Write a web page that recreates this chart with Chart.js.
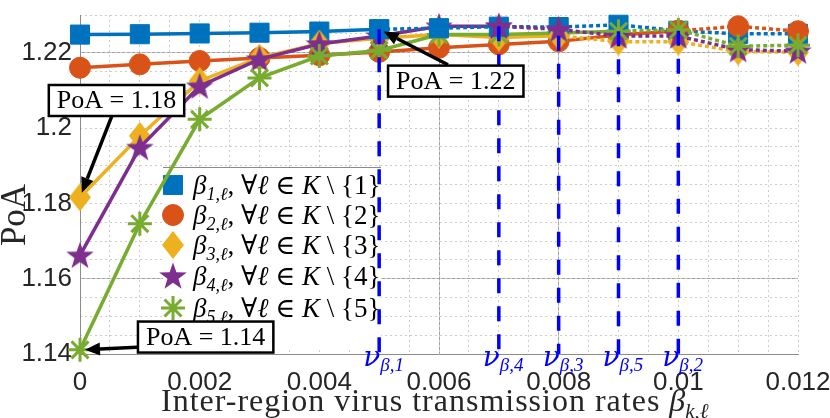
<!DOCTYPE html>
<html>
<head>
<meta charset="utf-8">
<script src="https://cdn.jsdelivr.net/npm/chart.js@4.4.1/dist/chart.umd.min.js"></script>
<style>
  html, body { margin: 0; padding: 0; background: #fff; }
</style>
</head>
<body>
<canvas id="poaChart" width="830" height="418"></canvas>
<script>
// values
const rates = [0, 0.001, 0.002, 0.003, 0.004, 0.005, 0.006, 0.007, 0.008, 0.009, 0.01, 0.011, 0.012];
const poaBeta1 = [1.2248, 1.2249, 1.2251, 1.2253, 1.2256, 1.2262, 1.2265, 1.2269, 1.2268, 1.2274, 1.2258, 1.2250, 1.2250];
const poaBeta2 = [1.2160, 1.2169, 1.2178, 1.2186, 1.2193, 1.2202, 1.2213, 1.2222, 1.2230, 1.2247, 1.2258, 1.2270, 1.2257];
const poaBeta3 = [1.1816, 1.1979, 1.2125, 1.2187, 1.2224, 1.2238, 1.2248, 1.2240, 1.2245, 1.2229, 1.2229, 1.2203, 1.2201];
const poaBeta4 = [1.1662, 1.1948, 1.2111, 1.2183, 1.2223, 1.2244, 1.2270, 1.2270, 1.2262, 1.2244, 1.2244, 1.2208, 1.2204];
const poaBeta5 = [1.1411, 1.1746, 1.2023, 1.2133, 1.2191, 1.2206, 1.2248, 1.2248, 1.2252, 1.2257, 1.2261, 1.2217, 1.2220];
// thresholds nu_{beta,k}, k = 1..5
const nuBeta = [0.005, 0.01, 0.008, 0.007, 0.009];

const xTicks = [0, 0.002, 0.004, 0.006, 0.008, 0.01, 0.012];
const yTicks = [1.14, 1.16, 1.18, 1.2, 1.22];
const xSolidGrid = [0.006, 0.008];
const ySolidGrid = [1.16, 1.22];

const seriesValues = [poaBeta1, poaBeta2, poaBeta3, poaBeta4, poaBeta5];
const colors = ['#0072BD', '#D95319', '#EDB120', '#7E2F8E', '#77AC30'];

const annotations = [
    { text: 'PoA = 1.18', k: 2, idx: 0, cx: 0.00061, cy: 1.2073, tx: 0.000535, ty: 1.2033 },
    { text: 'PoA = 1.22', k: 0, idx: 5, cx: 0.00628, cy: 1.21245, tx: 0.00615, ty: 1.2168 },
    { text: 'PoA = 1.14', k: 4, idx: 0, cx: 0.0021, cy: 1.1445, tx: 0.000953, ty: 1.1418 }
];

const SERIF = '"Liberation Serif", "DejaVu Serif", serif';

function makeMarker(w, h, color, draw) {
    const c = document.createElement('canvas');
    c.width = w;
    c.height = h;
    const g = c.getContext('2d');
    g.fillStyle = color;
    draw(g, w, h);
    return c;
}

const diamondImg = makeMarker(22, 28, colors[2], (g, w, h) => {
    g.beginPath();
    g.moveTo(w / 2, 0);
    g.lineTo(w, h / 2);
    g.lineTo(w / 2, h);
    g.lineTo(0, h / 2);
    g.closePath();
    g.fill();
});

const starImg = makeMarker(30, 30, colors[3], (g, w, h) => {
    const R = 14.5, r = 5.8, cx = w / 2, cy = h / 2 + 1;
    g.beginPath();
    for (let i = 0; i < 10; i++) {
        const ang = -Math.PI / 2 + i * Math.PI / 5;
        const rr = i % 2 === 0 ? R : r;
        g.lineTo(cx + rr * Math.cos(ang), cy + rr * Math.sin(ang));
    }
    g.closePath();
    g.fill();
});

const markers = [
    { pointStyle: 'rect', radius: 13.5, borderWidth: 1 },
    { pointStyle: 'circle', radius: 10.5, borderWidth: 1 },
    { pointStyle: diamondImg, radius: 11, borderWidth: 0 },
    { pointStyle: starImg, radius: 12, borderWidth: 0 },
    { pointStyle: 'star', radius: 12, borderWidth: 3 }
];

function buildDatasets() {
    const datasets = [];
    seriesValues.forEach((vals, k) => {
        const pts = rates.map((x, i) => ({ x: x, y: vals[i] }));
        const cut = rates.indexOf(nuBeta[k]);
        const common = {
            borderColor: colors[k],
            backgroundColor: colors[k],
            pointBackgroundColor: colors[k],
            pointBorderColor: colors[k],
            borderWidth: 3.5,
            pointStyle: markers[k].pointStyle,
            pointRadius: markers[k].radius,
            pointHoverRadius: markers[k].radius,
            pointBorderWidth: markers[k].borderWidth,
            fill: false,
            clip: false
        };
        datasets.push(Object.assign({}, common, { data: pts.slice(0, cut + 1), order: 10 - k }));
        datasets.push(Object.assign({}, common, { data: pts.slice(cut), borderDash: [4, 3], order: 5 - k }));
    });
    // vertical threshold lines
    nuBeta.forEach((nu, k) => {
        const top = seriesValues[k][rates.indexOf(nu)];
        datasets.push({
            data: [{ x: nu, y: top }, { x: nu, y: yTicks[0] }],
            borderColor: '#0000ff',
            borderWidth: 3.5,
            borderDash: [15, 13],
            pointRadius: 0,
            fill: false,
            clip: false,
            order: 0
        });
    });
    return datasets;
}

function drawRuns(ctx, x, y, runs) {
    runs.forEach(r => {
        ctx.font = (r.italic ? 'italic ' : '') + r.size + 'px ' + (r.family || SERIF);
        ctx.letterSpacing = (r.spacing || 0) + 'px';
        ctx.fillText(r.t, x, y + (r.dy || 0));
        x += ctx.measureText(r.t).width;
    });
    ctx.letterSpacing = '0px';
    return x;
}

function drawArrow(ctx, x0, y0, x1, y1) {
    const ang = Math.atan2(y1 - y0, x1 - x0);
    const ex = x1 - 5 * Math.cos(ang), ey = y1 - 5 * Math.sin(ang);
    const hl = 15, hw = 6.5;
    const bx = ex - hl * Math.cos(ang), by = ey - hl * Math.sin(ang);
    ctx.strokeStyle = '#000';
    ctx.fillStyle = '#000';
    ctx.lineWidth = 3.5;
    ctx.beginPath();
    ctx.moveTo(x0, y0);
    ctx.lineTo(bx, by);
    ctx.stroke();
    ctx.beginPath();
    ctx.moveTo(ex, ey);
    ctx.lineTo(bx + hw * Math.sin(ang), by - hw * Math.cos(ang));
    ctx.lineTo(bx - hw * Math.sin(ang), by + hw * Math.cos(ang));
    ctx.closePath();
    ctx.fill();
}

const decorPlugin = {
    id: 'poaDecor',
    beforeDatasetsDraw(chart) {
        // legend sits behind the curves, like in the figure
        const ctx = chart.ctx, ca = chart.chartArea;
        const lx = ca.left + 83, ly = ca.top + 152;
        ctx.save();
        ctx.fillStyle = '#fff';
        ctx.fillRect(lx, ly, 218, 180);
        ctx.strokeStyle = '#8a8a8a';
        ctx.lineWidth = 1;
        ctx.beginPath();
        ctx.moveTo(lx, ly + 0.5);
        ctx.lineTo(lx + 218, ly + 0.5);
        ctx.stroke();
        const rows = [18, 48, 78, 109, 141];
        markers.forEach((m, k) => {
            const my = ly + rows[k];
            ctx.fillStyle = colors[k];
            ctx.strokeStyle = colors[k];
            ctx.lineWidth = m.borderWidth || 1;
            Chart.helpers.drawPoint(ctx, { pointStyle: m.pointStyle, radius: m.radius, borderWidth: m.borderWidth, rotation: 0 }, lx + 10, my);
            ctx.fillStyle = '#000';
            drawRuns(ctx, lx + 30, my + 9, [
                { t: 'β', size: 27, italic: true },
                { t: (k + 1) + ',ℓ', size: 18, italic: true, dy: 6 },
                { t: ', ∀', size: 27 },
                { t: 'ℓ', size: 27, italic: true },
                { t: ' ∈ ', size: 27 },
                { t: 'K', size: 27, italic: true },
                { t: ' \\ {' + (k + 1) + '}', size: 27 }
            ]);
        });
        ctx.restore();
    },
    afterDatasetsDraw(chart) {
        const ctx = chart.ctx, xs = chart.scales.x, ys = chart.scales.y;
        ctx.save();
        // nu labels under the threshold lines
        ctx.fillStyle = '#0000ff';
        nuBeta.forEach((nu, k) => {
            const px = xs.getPixelForValue(nu);
            drawRuns(ctx, px - 16, ys.bottom + 12, [
                { t: 'ν', size: 28, italic: true, family: '"DejaVu Serif", serif' },
                { t: 'β,' + (k + 1), size: 19, italic: true, dy: 5 }
            ]);
        });
        // annotation arrows and boxes
        annotations.forEach(a => {
            const tipX = xs.getPixelForValue(rates[a.idx]);
            const tipY = ys.getPixelForValue(seriesValues[a.k][a.idx]);
            drawArrow(ctx, xs.getPixelForValue(a.tx), ys.getPixelForValue(a.ty), tipX, tipY);
        });
        annotations.forEach(a => {
            const cx = xs.getPixelForValue(a.cx), cy = ys.getPixelForValue(a.cy);
            ctx.font = '26px ' + SERIF;
            const w = ctx.measureText(a.text).width + 16, h = 31;
            ctx.fillStyle = '#fff';
            ctx.fillRect(cx - w / 2, cy - h / 2, w, h);
            ctx.strokeStyle = '#000';
            ctx.lineWidth = 2.5;
            ctx.strokeRect(cx - w / 2, cy - h / 2, w, h);
            ctx.fillStyle = '#000';
            ctx.textAlign = 'center';
            ctx.textBaseline = 'middle';
            ctx.fillText(a.text, cx, cy + 1);
            ctx.textAlign = 'left';
            ctx.textBaseline = 'alphabetic';
        });
        // axis titles
        ctx.fillStyle = '#262626';
        drawRuns(ctx, 161, 411, [
            { t: 'Inter-region virus transmission rates ', size: 32, spacing: 1 },
            { t: 'β', size: 32, italic: true },
            { t: 'k,ℓ', size: 21, italic: true, dy: 7 }
        ]);
        ctx.translate(25, 215);
        ctx.rotate(-Math.PI / 2);
        ctx.font = '35px ' + SERIF;
        ctx.textAlign = 'center';
        ctx.fillText('PoA', 0, 0);
        ctx.restore();
    }
};

function minorTicks(from, to, step) {
    const out = [];
    for (let v = from; v <= to + step / 2; v += step) out.push({ value: +v.toFixed(5) });
    return out;
}

function initPoaChart() {
    const tickFont = { family: '"Liberation Sans", Arial, sans-serif', size: 26 };
    const ctx = document.getElementById('poaChart').getContext('2d');
    new Chart(ctx, {
        type: 'line',
        data: { datasets: buildDatasets() },
        options: {
            responsive: false,
            animation: false,
            events: [],
            layout: { padding: { top: 13, right: 32, bottom: 0, left: 0 } },
            plugins: { legend: { display: false }, tooltip: { enabled: false } },
            scales: {
                x: {
                    type: 'linear', position: 'bottom', min: 0, max: 0.012,
                    afterBuildTicks: s => { s.ticks = xTicks.map(v => ({ value: v })); },
                    ticks: { font: tickFont, color: '#262626', padding: 13, maxRotation: 0, autoSkip: false, callback: v => String(v) },
                    grid: { drawTicks: false, lineWidth: 1, color: c => (c.tick && xSolidGrid.includes(c.tick.value)) ? '#a3a3a3' : 'rgba(0,0,0,0)' },
                    border: { display: true, color: '#8c8c8c', width: 1 },
                    afterFit: s => { s.height = 64; s.paddingLeft = 0; s.paddingRight = 0; }
                },
                xMinor: {
                    type: 'linear', position: 'bottom', min: 0, max: 0.012,
                    afterBuildTicks: s => { s.ticks = minorTicks(0, 0.012, 0.0005); },
                    ticks: { display: false },
                    grid: { drawTicks: false, lineWidth: 1, color: '#cdcdcd' },
                    border: { display: false, dash: [2, 3] },
                    afterFit: s => { s.height = 0; s.paddingLeft = 0; s.paddingRight = 0; }
                },
                y: {
                    type: 'linear', position: 'left', min: 1.14, max: 1.23,
                    afterBuildTicks: s => { s.ticks = yTicks.map(v => ({ value: v })); },
                    ticks: { font: tickFont, color: '#262626', padding: 8, callback: v => String(v) },
                    grid: { drawTicks: false, lineWidth: 1, color: c => (c.tick && ySolidGrid.includes(c.tick.value)) ? '#a3a3a3' : 'rgba(0,0,0,0)' },
                    border: { display: true, color: '#8c8c8c', width: 1 },
                    afterFit: s => { s.width = 80; s.paddingTop = 0; s.paddingBottom = 0; }
                },
                yMinor: {
                    type: 'linear', position: 'left', min: 1.14, max: 1.23,
                    afterBuildTicks: s => { s.ticks = minorTicks(1.14, 1.23, 0.005); },
                    ticks: { display: false },
                    grid: { drawTicks: false, lineWidth: 1, color: '#cdcdcd' },
                    border: { display: false, dash: [2, 3] },
                    afterFit: s => { s.width = 0; s.paddingTop = 0; s.paddingBottom = 0; }
                }
            }
        },
        plugins: [decorPlugin]
    });
}

initPoaChart();
</script>
</body>
</html>
